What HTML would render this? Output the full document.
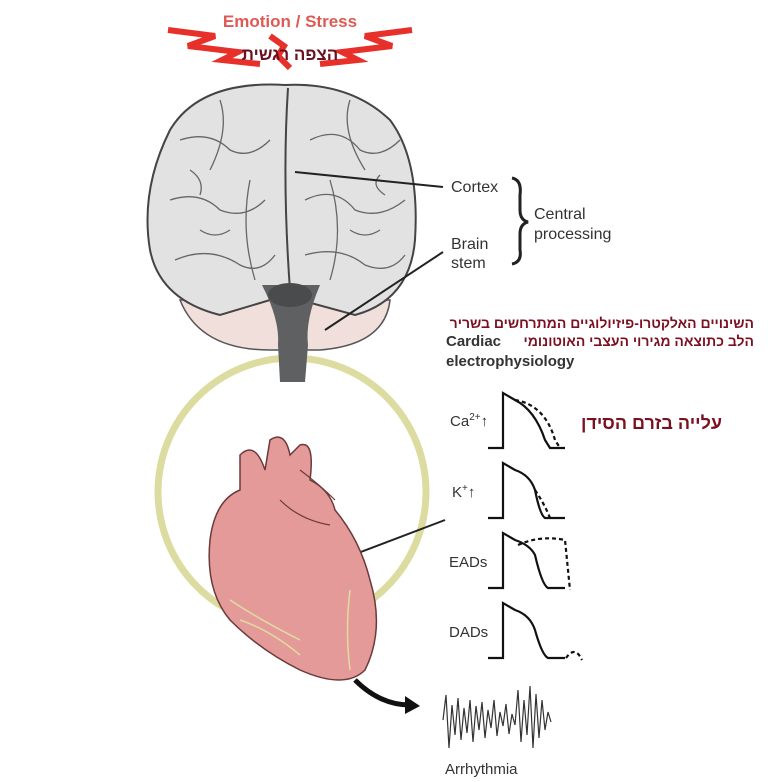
<!DOCTYPE html>
<html><head><meta charset="utf-8"><style>
body{margin:0;background:#fff}
svg{display:block}
text{font-family:"Liberation Sans","Noto Sans CJK SC",sans-serif}
</style></head><body>
<svg width="777" height="782" viewBox="0 0 777 782" xmlns="http://www.w3.org/2000/svg">
<!-- lightning -->
<g fill="none" stroke="#e8302a" stroke-width="6" stroke-linejoin="miter">
<polyline points="168,30 215,36 188,46 238,52 222,60 260,64"/>
<polyline points="412,30 365,36 392,46 342,52 358,60 320,64"/>
<polyline points="270,36 284,46 278,56 290,68"/>
</g>
<text x="290" y="27" text-anchor="middle" font-size="17" font-weight="bold" fill="#e05a55">Emotion / Stress</text>
<text x="290" y="60" text-anchor="middle" font-size="17" font-weight="bold" fill="#6a1020">הצפה רגשית</text>
<!-- ring -->
<circle cx="292" cy="492" r="134" fill="none" stroke="#dcdca0" stroke-width="7"/>
<!-- cerebellum -->
<path d="M180,300 Q200,350 270,350 L320,350 Q385,345 390,300 Z" fill="#f1dfdc" stroke="#555" stroke-width="1.5"/>
<!-- brain -->
<path d="M285,85 Q200,80 170,130 Q140,190 150,250 Q160,300 220,315 L270,300 L300,300 L355,315 Q410,300 415,240 Q420,160 390,120 Q350,82 285,85 Z" fill="#e2e2e3" stroke="#444" stroke-width="2"/>
<path d="M288,88 Q282,180 290,290" stroke="#444" stroke-width="2" fill="none"/>
<g stroke="#666" stroke-width="1.3" fill="none">
<path d="M180,140 Q210,130 230,150 Q250,160 270,140"/><path d="M170,200 Q200,190 220,210 Q245,220 265,200"/>
<path d="M175,260 Q210,245 240,265 Q260,275 275,255"/><path d="M310,140 Q340,125 360,150 Q380,160 400,140"/>
<path d="M305,200 Q335,185 355,210 Q380,220 405,200"/><path d="M305,255 Q340,245 365,265 Q390,275 405,255"/>
<path d="M220,100 Q230,130 210,170"/><path d="M350,100 Q340,130 365,170"/><path d="M250,180 Q240,230 255,280"/><path d="M330,180 Q345,230 330,280"/>
<path d="M190,170 Q205,180 200,195"/><path d="M380,175 Q370,185 385,195"/><path d="M200,230 Q215,240 230,230"/><path d="M350,230 Q365,240 380,230"/>
</g>
<!-- brainstem -->
<path d="M262,285 L320,285 Q305,320 308,345 L305,382 L280,382 L278,345 Q280,320 262,285 Z" fill="#5f6062"/>
<ellipse cx="290" cy="295" rx="22" ry="12" fill="#4a4b4d"/>
<!-- leader lines -->
<line x1="295" y1="172" x2="443" y2="187" stroke="#222" stroke-width="2"/>
<line x1="325" y1="330" x2="443" y2="252" stroke="#222" stroke-width="2"/>
<line x1="300" y1="575" x2="445" y2="520" stroke="#222" stroke-width="2"/>
<text x="451" y="192" font-size="16" fill="#333">Cortex</text>
<text x="451" y="249" font-size="16" fill="#333">Brain</text>
<text x="451" y="268" font-size="16" fill="#333">stem</text>
<path d="M512,178 Q522,180 520,195 L520,210 Q520,220 528,222 Q520,224 520,234 L520,250 Q522,262 512,264" stroke="#222" stroke-width="3" fill="none"/>
<text x="534" y="219" font-size="16" fill="#333">Central</text>
<text x="534" y="239" font-size="16" fill="#333">processing</text>
<text x="754" y="328" text-anchor="end" font-size="14" font-weight="bold" fill="#7a1020">השינויים האלקטרו-פיזיולוגיים המתרחשים בשריר</text>
<text x="754" y="346" text-anchor="end" font-size="14" font-weight="bold" fill="#7a1020">הלב כתוצאה מגירוי העצבי האוטונומי</text>
<text x="446" y="346" font-size="15" font-weight="bold" fill="#333">Cardiac</text>
<text x="446" y="366" font-size="15" font-weight="bold" fill="#333">electrophysiology</text>
<!-- heart -->
<path d="M240,455 Q255,440 265,470 L270,440 Q285,430 290,455 L300,445 Q315,440 310,480 Q330,490 335,510 Q360,540 370,580 Q385,630 365,670 Q345,690 300,670 Q260,650 230,620 Q205,590 210,540 Q215,500 240,490 Z" fill="#e49a98" stroke="#6b3a3a" stroke-width="1.5"/>
<path d="M300,470 Q320,485 335,500 M280,500 Q300,520 330,525" stroke="#6b3a3a" stroke-width="1.2" fill="none"/>
<g stroke="#e0dca0" stroke-width="1.5" fill="none"><path d="M230,600 Q260,620 300,640"/><path d="M240,620 Q270,630 300,655"/><path d="M350,590 Q345,630 350,670"/></g>
<path d="M355,680 Q380,705 410,705" stroke="#111" stroke-width="5" fill="none"/>
<polygon points="405,696 420,706 405,714" fill="#111"/>
<!-- waveforms -->
<g stroke="#111" stroke-width="2.2" fill="none">
<path d="M488,448 L503,448 L503,393 L515,400 Q535,410 545,440 L550,448 L565,448"/>
<path d="M515,400 Q545,405 555,440 L560,448" stroke-dasharray="4,3"/>
<path d="M488,518 L503,518 L503,463 L515,470 Q530,475 535,490 Q540,515 545,518 L565,518"/>
<path d="M535,490 Q545,505 550,518" stroke-dasharray="4,3"/>
<path d="M488,588 L503,588 L503,533 L515,540 Q530,545 535,555 Q542,585 548,588 L565,588"/>
<path d="M518,545 Q540,535 565,540 L570,590" stroke-dasharray="4,3"/>
<path d="M488,658 L503,658 L503,603 L515,610 Q530,615 535,630 Q542,655 548,658 L565,658"/>
<path d="M566,658 Q575,645 582,660" stroke-dasharray="4,3"/>
</g>
<text x="450" y="426" font-size="15" fill="#333">Ca<tspan font-size="10" dy="-6">2+</tspan><tspan dy="6">↑</tspan></text>
<text x="452" y="497" font-size="15" fill="#333">K<tspan font-size="10" dy="-6">+</tspan><tspan dy="6">↑</tspan></text>
<text x="449" y="567" font-size="15" fill="#333">EADs</text>
<text x="449" y="637" font-size="15" fill="#333">DADs</text>
<text x="722" y="429" text-anchor="end" font-size="18" font-weight="bold" fill="#7a1020">עלייה בזרם הסידן</text>
<!-- arrhythmia -->
<path d="M443,720 L446,695 L449,748 L452,705 L455,735 L458,698 L461,740 L464,708 L467,733 L470,700 L473,742 L476,706 L479,730 L482,702 L485,738 L488,710 L491,728 L494,700 L497,736 L500,712 L503,726 L506,704 L509,734 L512,714 L515,725 L518,690 L521,742 L524,700 L527,735 L530,686 L533,748 L536,694 L539,738 L542,700 L545,730 L548,712 L551,722" stroke="#333" stroke-width="1.2" fill="none"/>
<text x="445" y="774" font-size="15" fill="#333">Arrhythmia</text>
</svg>
</body></html>
